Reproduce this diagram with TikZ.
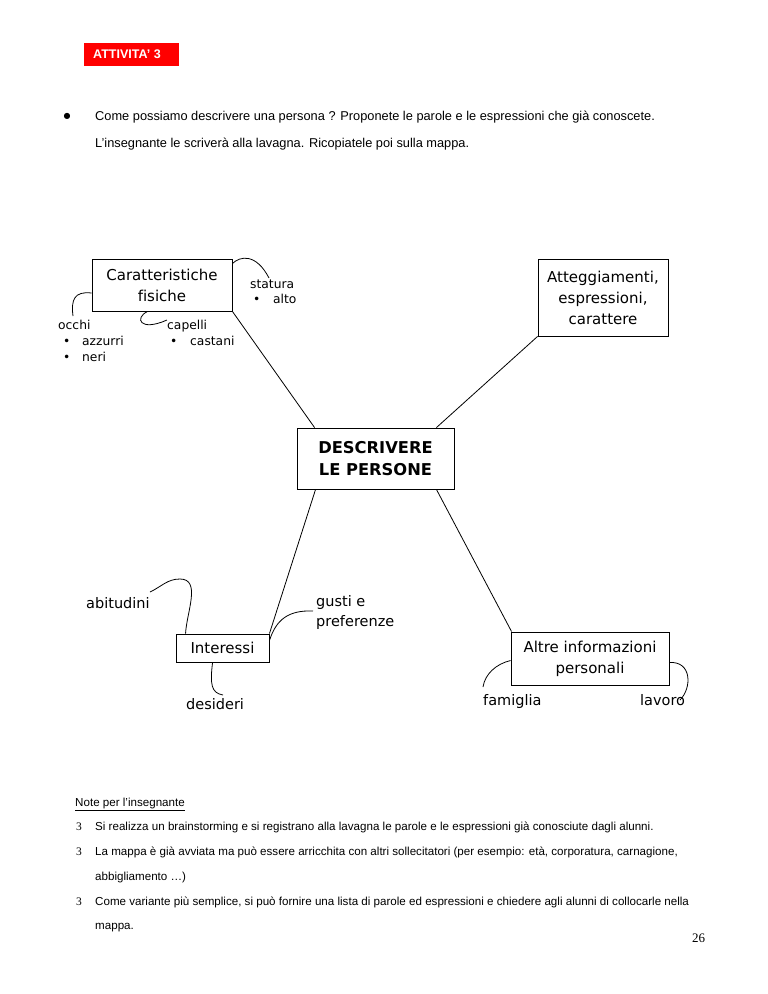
\documentclass[tikz,border=0pt]{standalone}
\usepackage{fontspec}
\setmainfont{Liberation Sans}
\newfontfamily\cfont[Ligatures=NoCommon]{DejaVu Sans}
\newfontfamily\tfont{Liberation Serif}
\usetikzlibrary{calc}
\begin{document}
\begin{tikzpicture}[x=1pt,y=-1pt,
  box/.style={draw, line width=0.9pt, inner sep=0pt, align=center, font=\cfont\fontsize{15}{21}\selectfont},
  small/.style={anchor=base west, inner sep=0pt, font=\cfont\fontsize{12.3}{14}\selectfont},
  big/.style={anchor=base west, inner sep=0pt, font=\cfont\fontsize{14.5}{20}\selectfont},
  body/.style={anchor=base west, inner sep=0pt, font=\fontsize{12.8}{15}\selectfont},
  note/.style={anchor=base west, inner sep=0pt, font=\fontsize{11.6}{13}\selectfont},
  num/.style={anchor=base west, inner sep=0pt, font=\tfont\fontsize{11.5}{13}\selectfont},
  link/.style={line width=0.8pt}]
\useasboundingbox (0,0) rectangle (768,994);
\fill[white] (0,0) rectangle (768,994);

% header
\node[fill=red, minimum width=95, minimum height=23, inner sep=0pt] (hdr) at (131.5,54) {};
\node[anchor=base west, inner sep=0pt, text=white, font=\bfseries\fontsize{12.5}{14}\selectfont] (hdrt) at (93,58.5) {ATTIVITA' 3};

\node[anchor=center, inner sep=0pt, font=\cfont\fontsize{8}{10}\selectfont] (b0) at (67,116) {●};
\node[body] (t1) at (95,120) {Come possiamo descrivere una persona ? Proponete le parole e le espressioni che già conoscete.};
\node[body] (t2) at (95,147) {L’insegnante le scriverà alla lavagna. Ricopiatele poi sulla mappa.};

% boxes
\node[box, minimum width=140, minimum height=52] (car) at (162,285) {Caratteristiche\\fisiche};
\node[box, minimum width=130, minimum height=77] (att) at (603,297.5) {Atteggiamenti,\\espressioni,\\carattere};
\node[box, minimum width=157, minimum height=61, font=\cfont\bfseries\fontsize{16.3}{22}\selectfont] (desc) at (375.5,458.5) {DESCRIVERE\\LE PERSONE};
\node[box, minimum width=93, minimum height=28] (int) at (222.5,648) {Interessi};
\node[box, minimum width=158, minimum height=53] (alt) at (590,658.5) {Altre informazioni\\personali};

% labels
\node[small] (stat) at (250,288) {statura};
\node[small] (altob) at (253,303) {•};
\node[small] (alto) at (273,303) {alto};
\node[small] (occ) at (58,329) {occhi};
\node[small] (azb) at (63,345) {•};
\node[small] (az) at (82,345) {azzurri};
\node[small] (nerb) at (63,361) {•};
\node[small] (ner) at (82,361) {neri};
\node[small] (cap) at (167,329) {capelli};
\node[small] (casb) at (170,345) {•};
\node[small] (cas) at (190,345) {castani};

\node[big] (abi) at (86,608) {abitudini};
\node[big] (gus) at (316,606) {gusti e};
\node[big] (pref) at (316,626) {preferenze};
\node[big] (des) at (186,709) {desideri};
\node[big] (fam) at (483,705) {famiglia};
\node[big] (lav) at (640,705) {lavoro};

% attach coordinates
\coordinate (dTL) at ($(desc.north west)+(18,0)$);
\coordinate (dTR) at ($(desc.north east)+(-18,0)$);
\coordinate (dBL) at ($(desc.south west)+(19,0)$);
\coordinate (dBR) at ($(desc.south east)+(-18,0)$);
\coordinate (aBL) at ($(alt.north west)+(1,0)$);

% main connectors
\draw[link] (car.south east) -- (dTL);
\draw[link] (att.south west) -- (dTR);
\draw[link] (dBL) -- (int.north east);
\draw[link] (dBR) -- (aBL);

% hooks
\coordinate (statE) at (269,278);
\draw[link] ($(car.north east)+(0,5)$) .. controls (240,256) and (256,253) .. (statE);
\coordinate (occE) at (73,316);
\draw[link] ($(car.west)+(0,8)$) .. controls (74,291) and (71,300) .. (occE);
\coordinate (capE) at (167,320);
\draw[link] ($(car.south west)+(56,0)$) .. controls (134,318) and (140,332) .. (capE);

\coordinate (abiE) at (150,592);
\draw[link] ($(int.north west)+(10,0)$) to[out=87,in=0] (180,579) to[out=180,in=25] (abiE);
\coordinate (gusE) at (313,611);
\draw[link] ($(int.north east)+(0,7)$) .. controls (276,620) and (288,610) .. (gusE);
\coordinate (desE) at (223,695);
\draw[link] ($(int.south west)+(37,0)$) .. controls (210,684) and (211,693) .. (desE);
\coordinate (famE) at (483,687);
\draw[link] ($(alt.west)+(0,2)$) .. controls (496,664) and (485,674) .. (famE);
\coordinate (lavE) at (680,700);
\draw[link] ($(alt.east)+(0,4)$) .. controls (692,661) and (692,688) .. (lavE);

% notes
\node[note] (nt) at (75,806) {\underline{Note per l’insegnante}};
\node[num] (n1) at (76,830) {3};
\node[note] (l1) at (95,830) {Si realizza un brainstorming e si registrano alla lavagna le parole e le espressioni già conosciute dagli alunni.};
\node[num] (n2) at (76,855) {3};
\node[note] (l2) at (95,855) {La mappa è già avviata ma può essere arricchita con altri sollecitatori (per esempio: età, corporatura, carnagione,};
\node[note] (l2b) at (95,880) {abbigliamento …)};
\node[num] (n3) at (76,905) {3};
\node[note] (l3) at (95,905) {Come variante più semplice, si può fornire una lista di parole ed espressioni e chiedere agli alunni di collocarle nella};
\node[note] (l3b) at (95,929) {mappa.};
\node[num, font=\tfont\fontsize{13}{15}\selectfont] (pg) at (692,942) {26};
\end{tikzpicture}
\end{document}
